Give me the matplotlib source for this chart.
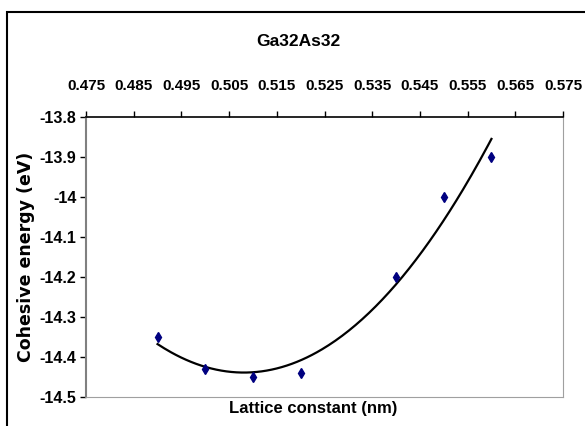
import numpy as np
import matplotlib.pyplot as plt
from matplotlib.patches import Rectangle

# data
lattice = [0.49, 0.50, 0.51, 0.52, 0.54, 0.55, 0.56]
energy = [-14.35, -14.43, -14.45, -14.44, -14.20, -14.00, -13.90]
xticks = [0.475, 0.485, 0.495, 0.505, 0.515, 0.525, 0.535, 0.545, 0.555, 0.565, 0.575]
yticks = [-13.8, -13.9, -14.0, -14.1, -14.2, -14.3, -14.4, -14.5]
ylabels = ['-13.8', '-13.9', '-14', '-14.1', '-14.2', '-14.3', '-14.4', '-14.5']

narrow = ['Liberation Sans Narrow', 'Liberation Sans', 'DejaVu Sans']

W, H = 585, 426
fig = plt.figure(figsize=(W / 100, H / 100), dpi=100)
ax = fig.add_axes([86 / W, 1 - 397 / H, (563 - 86) / W, (397 - 117) / H])

# polynomial trendline (2nd order) like the spreadsheet
coef = np.polyfit(lattice, energy, 2)
xs = np.linspace(min(lattice), max(lattice), 200)
ax.plot(xs, np.polyval(coef, xs), color='black', lw=1.6)
ax.plot(lattice, energy, linestyle='none', marker='d', color='#000080',
        markersize=5.5)

ax.set_xlim(0.475, 0.575)
ax.set_ylim(-14.5, -13.8)
ax.xaxis.tick_top()
ax.set_xticks(xticks)
ax.set_xticklabels(['%.3f' % t for t in xticks], family=narrow,
                   fontweight='bold', fontsize=11)
ax.set_yticks(yticks)
ax.set_yticklabels(ylabels, family=narrow, fontweight='bold', fontsize=11.5)
ax.tick_params(axis='x', direction='out', length=4, pad=13, width=1)
ax.tick_params(axis='y', direction='out', length=4, pad=3, width=1)
ax.tick_params(axis='x', bottom=False, labelbottom=False)

ax.spines['top'].set_color('black')
ax.spines['top'].set_linewidth(1.2)
ax.spines['left'].set_color('#808080')
ax.spines['left'].set_linewidth(1.5)
ax.spines['right'].set_color('#a0a0a0')
ax.spines['bottom'].set_color('#a0a0a0')

ax.set_ylabel('Cohesive energy (eV)', family='DejaVu Sans', fontweight='bold',
              fontsize=12.5, labelpad=3)
fig.text(313 / W, 1 - 408 / H, 'Lattice constant (nm)', family=narrow,
         fontweight='bold', fontsize=12, ha='center', va='center')
fig.text(298 / W, 1 - 42 / H, 'Ga32As32', family=narrow,
         fontweight='bold', fontsize=12.5, ha='center', va='center')

# chart area border (extends past the image)
fig.patches.append(Rectangle((7 / W, -0.1), 1.2, 1 - 12 / H + 0.1,
                             transform=fig.transFigure, fill=False,
                             edgecolor='black', lw=1.5))

fig.savefig('out.png', dpi=100)
